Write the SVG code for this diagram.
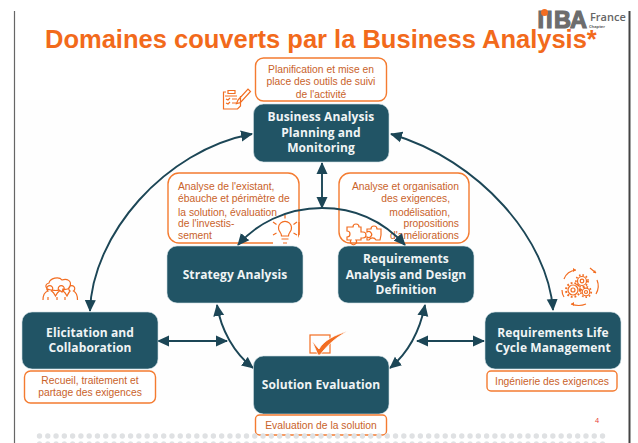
<svg xmlns="http://www.w3.org/2000/svg" width="638" height="443" viewBox="0 0 638 443">
<style>
.node{fill:#215465;stroke:#cfdde2;stroke-width:.6}
.nt{font-family:"Open Sans","Noto Sans",sans-serif;font-weight:700;font-size:12px;fill:#f0f4f5;text-anchor:middle;letter-spacing:.1px}
.call{fill:#fff;stroke:#F47B30;stroke-width:1.4}
.ct{font-family:"Liberation Sans",Arial,sans-serif;font-size:10.3px;fill:#C9622A}
.m{text-anchor:middle}.e{text-anchor:end}
.con{fill:none;stroke:#1c4656;stroke-width:1.9}
.ic{fill:none;stroke:#F26D21;stroke-width:1.2}
.dots{fill:none;stroke:#DFE1E3;stroke-width:5.4;stroke-linecap:round;stroke-dasharray:0 8.28}
</style>
<defs>
<marker id="a" viewBox="0 0 12 12" refX="11" refY="6" markerWidth="12" markerHeight="12" markerUnits="userSpaceOnUse" orient="auto-start-reverse"><path d="M0 .5L12 6L0 11.5z" fill="#1c4656"/></marker>
</defs>
<rect width="638" height="443" fill="#fff"/>
<rect x="20" y="100" width="600" height="300" fill="#fefefe"/>
<path d="M14.5 11V443" stroke="#666" stroke-width="1.2" fill="none"/>
<path d="M629.5 11V443" stroke="#444" stroke-width="2" fill="none"/>
<text x="45" y="48" font-family="'Liberation Sans',Arial,sans-serif" font-weight="700" font-size="25.5px" fill="#F26A1B">Domaines couverts par la Business Analysis*</text>
<g id="logo">
<text x="537.500 546 554 570" y="28" font-family="'Liberation Sans',Arial,sans-serif" font-weight="700" font-size="23.500px" fill="#6d6d6d" stroke="#6d6d6d" stroke-width="1.200">IIBA</text>
<circle cx="544.500" cy="12.500" r="3.500" fill="#F26D21"/>
<text x="590" y="21" font-family="'Open Sans','Noto Sans',sans-serif" font-weight="600" font-size="11px" fill="#666">France</text>
<text x="589" y="27.500" font-family="'Open Sans','Noto Sans',sans-serif" font-weight="700" font-size="4px" fill="#666">Chapter</text>
</g>
<g id="connectors">
<path class="con" marker-start="url(#a)" marker-end="url(#a)" d="M90 311C92 235 165 150 252 134"/>
<path class="con" marker-start="url(#a)" marker-end="url(#a)" d="M553 310C548 240 480 160 391 134"/>
<path class="con" marker-start="url(#a)" marker-end="url(#a)" d="M322 163V208"/>
<path class="con" marker-start="url(#a)" marker-end="url(#a)" d="M158 341H227"/>
<path class="con" marker-start="url(#a)" marker-end="url(#a)" d="M417 341H484"/>
<path class="con" marker-start="url(#a)" marker-end="url(#a)" d="M217 305C221 330 234 353 253 368"/>
<path class="con" marker-start="url(#a)" marker-end="url(#a)" d="M425 305C420 330 408 353 390 368"/>
</g>
<g id="callout-strategy">
<rect class="call" x="168" y="173" width="131" height="70" rx="11"/>
<text class="ct" x="178" y="190">Analyse de l'existant,</text>
<text class="ct" x="178" y="202">ébauche et périmètre de</text>
<text class="ct" x="178" y="215.500">la solution, évaluation</text>
<text class="ct" x="178" y="227">de l'investis-</text>
<text class="ct" x="178" y="239">sement</text>
<rect x="273" y="219" width="25" height="25" fill="#fff"/>
<path class="ic" stroke-width="1.400" d="M280 232a6.500 6.500 0 1 1 10 0q-1.500 2-1.500 4h-7q0-2-1.500-4zM281.500 239h7M283 243h4M273 222l3.500 2.500M273 235l3.500-2M285 215v3.500M297 222l-3.500 2.500M297 235l-3.500-2M299 222v13"/>
</g>
<g id="callout-radd">
<rect class="call" x="339" y="173" width="130" height="70" rx="11"/>
<text class="ct e" x="459" y="190">Analyse et organisation</text>
<text class="ct e" x="450" y="202">des exigences,</text>
<text class="ct e" x="450" y="215.500">modélisation,</text>
<text class="ct e" x="459" y="227">propositions</text>
<text class="ct e" x="459" y="239">d'améliorations</text>
<path class="ic" stroke-width="1.400" d="M347 227h6a3 3 0 1 1 6 0h2v5h2a3 3 0 1 1 0 6h-2v2h-5a3 3 0 1 1-5 0h-4v-3a3 3 0 1 0 0-6z"/>
<path class="ic" stroke-width="1.400" d="M367 229h4a3 3 0 1 1 6 0h4v6l-1 5h-4a4 4 0 0 0-7 0h-2v-3a3 3 0 1 0 0-5z"/>
</g>
<path class="con" marker-start="url(#a)" marker-end="url(#a)" d="M238 245C255 225 285 208 322 208C358 208 384 222 405 245" stroke-width="1.700"/>
<g id="callout-plan">
<rect class="call" x="255.500" y="58" width="131" height="43" rx="8"/>
<text class="ct m" x="321" y="73">Planification et mise en</text>
<text class="ct m" x="321" y="85">place des outils de suivi</text>
<text class="ct m" x="321" y="98">de l'activité</text>
</g>
<g id="icon-plan"><path class="ic" stroke-width="1.400" d="M226 92h-2.500v17h14l3-3V96M228 90.500h7v3h-7zM225 96h12M226 99l2 1 2-2M232 99h5M226 103l2 1 2-2M232 103h5M238 100l10-11 2.500 2.500-10 11-4 1z"/></g>
<g id="node-planning">
<rect class="node" x="253.500" y="104" width="135.500" height="58" rx="10"/>
<text class="nt" x="321" y="121">Business Analysis</text>
<text class="nt" x="321" y="137">Planning and</text>
<text class="nt" x="321" y="152">Monitoring</text>
</g>
<g id="node-strategy">
<rect class="node" x="167" y="246" width="136" height="57" rx="10"/>
<text class="nt" x="235" y="279">Strategy Analysis</text>
</g>
<g id="node-radd">
<rect class="node" x="338" y="246" width="136" height="57" rx="10"/>
<text class="nt" x="406" y="263">Requirements</text>
<text class="nt" x="406" y="279">Analysis and Design</text>
<text class="nt" x="406" y="294">Definition</text>
</g>
<g id="node-elicitation">
<rect class="node" x="22" y="312" width="136" height="57" rx="10"/>
<text class="nt" x="90" y="337">Elicitation and</text>
<text class="nt" x="90" y="352">Collaboration</text>
</g>
<g id="icon-elicitation"><path class="ic" stroke-width="1.400" d="M52 290c-7 0-8-6-3-7 1-5 10-7 13-3 5-2 10 1 8 6 0 3-4 4-7 3l-1 3-3-2q-3 1-7 0zM43 300c0-5 2-8 5-9a3 3 0 1 1 3.500 0c2 1 3 3 4 5 1-2 2-4 4-5a3 3 0 1 1 3.500 0c2 1 3 3 4 5 1-2 2-4 3-5a3 3 0 1 1 3.500 0c2 1 4 4 4 9M48 300v-3M57 300v-3M65 300v-3"/></g>
<g id="callout-elicitation">
<rect class="call" x="24.500" y="371" width="131" height="32" rx="6"/>
<text class="ct m" x="90" y="384">Recueil, traitement et</text>
<text class="ct m" x="90" y="396">partage des exigences</text>
</g>
<g id="node-lifecycle">
<rect class="node" x="485" y="312" width="136" height="57" rx="10"/>
<text class="nt" x="553" y="337">Requirements Life</text>
<text class="nt" x="553" y="352">Cycle Management</text>
</g>
<g id="icon-lifecycle">
<circle class="ic" cx="573" cy="290" r="5"/><circle class="ic" cx="573" cy="290" r="2"/>
<circle class="ic" cx="582" cy="281" r="4.500"/><circle class="ic" cx="582" cy="281" r="1.800"/>
<circle class="ic" cx="586" cy="292" r="3.800"/><circle class="ic" cx="586" cy="292" r="1.500"/>
<circle cx="573" cy="290" r="7" fill="none" stroke="#F26D21" stroke-width="2" stroke-dasharray="1.800 2"/>
<circle cx="582" cy="281" r="6" fill="none" stroke="#F26D21" stroke-width="1.800" stroke-dasharray="1.500 2"/>
<circle cx="586" cy="292" r="5.200" fill="none" stroke="#F26D21" stroke-width="1.800" stroke-dasharray="1.500 2"/>
<path class="ic" d="M564 279q3-8 12-9M590 268l6 5M597 280q3 7-1 14M586 304q-7 3-15 0M564 297q-2-3-2-7"/>
<path d="M576 270l-3-2v4zM596 273l-3 0 2-3zM571 304l3-2v4z" fill="#F26D21"/></g>
<g id="callout-lifecycle">
<rect class="call" x="487" y="371" width="130" height="20" rx="4"/>
<text class="ct m" x="552" y="385">Ingénierie des exigences</text>
</g>
<g id="icon-eval"><rect class="ic" stroke-width="1.800" x="310" y="335" width="20" height="18"/><path d="M312 341l7 8c5-9 16-14 29-18-11 6-20 13-28 24h-2z" fill="#F26D21" stroke="#fff" stroke-width=".8"/></g>
<g id="node-eval">
<rect class="node" x="253.500" y="356" width="135.500" height="58" rx="10"/>
<text class="nt" x="321" y="389">Solution Evaluation</text>
</g>
<g id="callout-eval">
<rect class="call" x="255.500" y="415" width="131" height="20" rx="4"/>
<text class="ct m" x="321" y="429">Evaluation de la solution</text>
</g>
<text x="597" y="423" font-family="'Liberation Sans',Arial,sans-serif" font-size="7.500px" fill="#E8443A" text-anchor="middle">4</text>
<path class="dots" d="M39.500 436H606"/>
<path class="dots" d="M39.500 444H606"/>
</svg>
